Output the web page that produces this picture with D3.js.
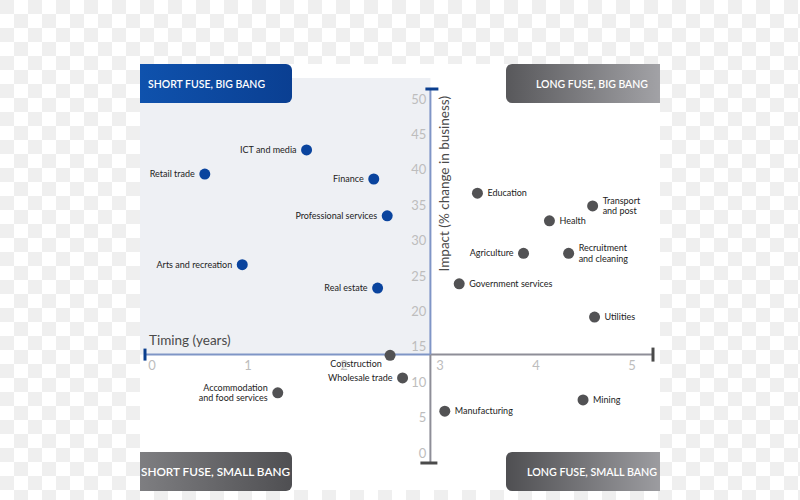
<!DOCTYPE html>
<html>
<head>
<meta charset="utf-8">
<script src="https://cdn.jsdelivr.net/npm/d3@7"></script>
<style>
  html, body { margin: 0; padding: 0; background: #fff; }
  svg { display: block; }
  text { font-family: Lato, "Open Sans", sans-serif; }
</style>
</head>
<body>
<svg id="chart" width="800" height="500"></svg>
<script>
// ---------- data ----------
const sectors = ["ICT and media", "Retail trade", "Finance", "Professional services",
  "Arts and recreation", "Real estate", "Education", "Transport\nand post", "Health",
  "Agriculture", "Recruitment\nand cleaning", "Government services", "Utilities",
  "Construction", "Wholesale trade", "Accommodation\nand food services", "Manufacturing", "Mining"];
const timing = [1.61, 0.55, 2.31, 2.45, 0.94, 2.35, 3.39, 4.59, 4.14, 3.87, 4.34, 3.20, 4.61,
  2.48, 2.61, 1.31, 3.05, 4.49];
const impact = [42.8, 39.4, 38.7, 33.5, 26.6, 23.3, 36.7, 34.9, 32.8, 28.2, 28.2, 23.9, 19.2,
  13.8, 10.6, 8.5, 5.9, 7.5];
const group = ["short", "short", "short", "short", "short", "short", "long", "long", "long",
  "long", "long", "long", "long", "long", "long", "long", "long", "long"];
const labelSide = ["left", "left", "left", "left", "left", "left", "right", "right", "right",
  "left", "right", "right", "right", "below", "left", "left", "right", "right"];
const xTicks = [0, 1, 2, 3, 4, 5];
const yTicks = [0, 5, 10, 15, 20, 25, 30, 35, 40, 45, 50];
const quadrants = ["SHORT FUSE, BIG BANG", "LONG FUSE, BIG BANG", "SHORT FUSE, SMALL BANG", "LONG FUSE, SMALL BANG"];
const xTitle = "Timing (years)";
const yTitle = "Impact (% change in business)";
const crossX = 2.9;   // timing where the vertical axis sits
const crossY = 13.9;  // impact where the horizontal axis sits

// ---------- setup ----------
const svg = d3.select("#chart");
const x = d3.scaleLinear().domain([0, 5]).range([152, 632]);
const y = d3.scaleLinear().domain([0, 50]).range([453, 99]);

const defs = svg.append("defs");
const pat = defs.append("pattern").attr("id", "checker").attr("patternUnits", "userSpaceOnUse")
  .attr("width", 28).attr("height", 28);
pat.append("rect").attr("width", 28).attr("height", 28).attr("fill", "#ffffff");
pat.append("rect").attr("width", 14).attr("height", 14).attr("fill", "#efefef");
pat.append("rect").attr("x", 14).attr("y", 14).attr("width", 14).attr("height", 14).attr("fill", "#efefef");

function grad(id, c1, c2) {
  const g = defs.append("linearGradient").attr("id", id).attr("x1", "0%").attr("x2", "100%").attr("y1", "0%").attr("y2", "0%");
  g.append("stop").attr("offset", "0%").attr("stop-color", c1);
  g.append("stop").attr("offset", "100%").attr("stop-color", c2);
}
grad("gBlue", "#0f52ad", "#0a3f92");
grad("gTR", "#58585b", "#a2a2a6");
grad("gBL", "#7e7e81", "#4f4f52");
grad("gBR", "#4f4f52", "#9c9ca0");

// background
svg.append("rect").attr("width", 800).attr("height", 500).attr("fill", "url(#checker)");
const L = 140, R = 660, T = 64, B = 490;
svg.append("rect").attr("x", L).attr("y", T).attr("width", R - L).attr("height", B - T).attr("fill", "#ffffff");
svg.append("rect").attr("x", L).attr("y", 78).attr("width", x(crossX) - L).attr("height", y(crossY) - 78).attr("fill", "#eef0f4");

// quadrant boxes
function boxPath(x0, y0, w, h, r, roundRight) {
  const p = d3.path();
  if (roundRight) {
    p.moveTo(x0, y0); p.lineTo(x0 + w - r, y0); p.arcTo(x0 + w, y0, x0 + w, y0 + r, r);
    p.lineTo(x0 + w, y0 + h - r); p.arcTo(x0 + w, y0 + h, x0 + w - r, y0 + h, r);
    p.lineTo(x0, y0 + h); p.closePath();
  } else {
    p.moveTo(x0 + w, y0); p.lineTo(x0 + r, y0); p.arcTo(x0, y0, x0, y0 + r, r);
    p.lineTo(x0, y0 + h - r); p.arcTo(x0, y0 + h, x0 + r, y0 + h, r);
    p.lineTo(x0 + w, y0 + h); p.closePath();
  }
  return p.toString();
}
const boxes = [
  { x0: 140, y0: 64, w: 152, fill: "url(#gBlue)", right: true, tx: 148, tw: 117, anchor: "start" },
  { x0: 506, y0: 64, w: 154, fill: "url(#gTR)", right: false, tx: 536, tw: 112, anchor: "start" },
  { x0: 140, y0: 452, w: 152, fill: "url(#gBL)", right: true, tx: 141, tw: 149, anchor: "start" },
  { x0: 506, y0: 452, w: 154, fill: "url(#gBR)", right: false, tx: 527, tw: 130, anchor: "start" }
];
boxes.forEach((b, i) => {
  svg.append("path").attr("d", boxPath(b.x0, b.y0, b.w, 39, 6, b.right)).attr("fill", b.fill);
  svg.append("text").attr("x", b.tx).attr("y", b.y0 + 20).attr("dy", "0.35em")
    .attr("fill", "#ffffff").attr("font-size", 11.5).attr("font-weight", 600)
    .attr("textLength", b.tw).attr("lengthAdjust", "spacingAndGlyphs")
    .text(quadrants[i]);
});

// axes lines
const ax = x(crossX), ay = y(crossY);
const blue = "#7f95c6", grey = "#8e8e98";
svg.append("line").attr("x1", x(0) - 7).attr("x2", ax).attr("y1", ay).attr("y2", ay).attr("stroke", blue).attr("stroke-width", 2);
svg.append("line").attr("x1", ax).attr("x2", x(5) + 21).attr("y1", ay).attr("y2", ay).attr("stroke", grey).attr("stroke-width", 2);
svg.append("line").attr("x1", ax).attr("x2", ax).attr("y1", y(50) - 10).attr("y2", ay).attr("stroke", blue).attr("stroke-width", 2);
svg.append("line").attr("x1", ax).attr("x2", ax).attr("y1", ay).attr("y2", y(0) + 10).attr("stroke", grey).attr("stroke-width", 2);
// caps
svg.append("line").attr("x1", x(0) - 7).attr("x2", x(0) - 7).attr("y1", ay - 6).attr("y2", ay + 6).attr("stroke", "#0b3f8f").attr("stroke-width", 3);
svg.append("line").attr("x1", x(5) + 21).attr("x2", x(5) + 21).attr("y1", ay - 7).attr("y2", ay + 7).attr("stroke", "#4a4a4a").attr("stroke-width", 3);
svg.append("line").attr("x1", ax - 5).attr("x2", ax + 8).attr("y1", y(50) - 10).attr("y2", y(50) - 10).attr("stroke", "#0b3f8f").attr("stroke-width", 3);
svg.append("line").attr("x1", ax - 10).attr("x2", ax + 7).attr("y1", y(0) + 10).attr("y2", y(0) + 10).attr("stroke", "#4a4a4a").attr("stroke-width", 3);

// tick labels
svg.append("g").selectAll("text").data(xTicks).join("text")
  .attr("x", d => x(d)).attr("y", ay + 11).attr("dy", "0.35em").attr("text-anchor", "middle")
  .attr("font-size", 13).attr("fill", "#bdbdbd").text(d => d);
svg.append("g").selectAll("text").data(yTicks).join("text")
  .attr("x", ax - 4).attr("y", d => y(d)).attr("dy", "0.35em").attr("text-anchor", "end")
  .attr("font-size", 13).attr("fill", "#bdbdbd").text(d => d);

// axis titles
svg.append("text").attr("x", 149).attr("y", 340).attr("dy", "0.35em").attr("font-size", 13.5)
  .attr("fill", "#4a4a4a").text(xTitle);
svg.append("text").attr("transform", `translate(${ax + 14},${y(50) - 3}) rotate(-90)`)
  .attr("text-anchor", "end").attr("dy", "0.35em").attr("font-size", 13.5)
  .attr("fill", "#4a4a4a").text(yTitle);

// points
const pts = svg.append("g");
sectors.forEach((name, i) => {
  const px = x(timing[i]), py = y(impact[i]);
  pts.append("circle").attr("cx", px).attr("cy", py).attr("r", 5.5)
    .attr("fill", group[i] === "short" ? "#0a449e" : "#525254");
  const lines = name.split("\n");
  const side = labelSide[i];
  const t = pts.append("text").attr("font-size", 9).attr("fill", "#222")
    .attr("text-anchor", side === "left" ? "end" : side === "right" ? "start" : "middle");
  const tx = side === "left" ? px - 10 : side === "right" ? px + 10 : px - 34;
  const ty0 = side === "below" ? py + 9 : py - (lines.length - 1) * 5.2;
  lines.forEach((ln, j) => {
    t.append("tspan").attr("x", tx).attr("y", ty0 + j * 10.5).attr("dy", "0.35em").text(ln);
  });
});
</script>
</body>
</html>
